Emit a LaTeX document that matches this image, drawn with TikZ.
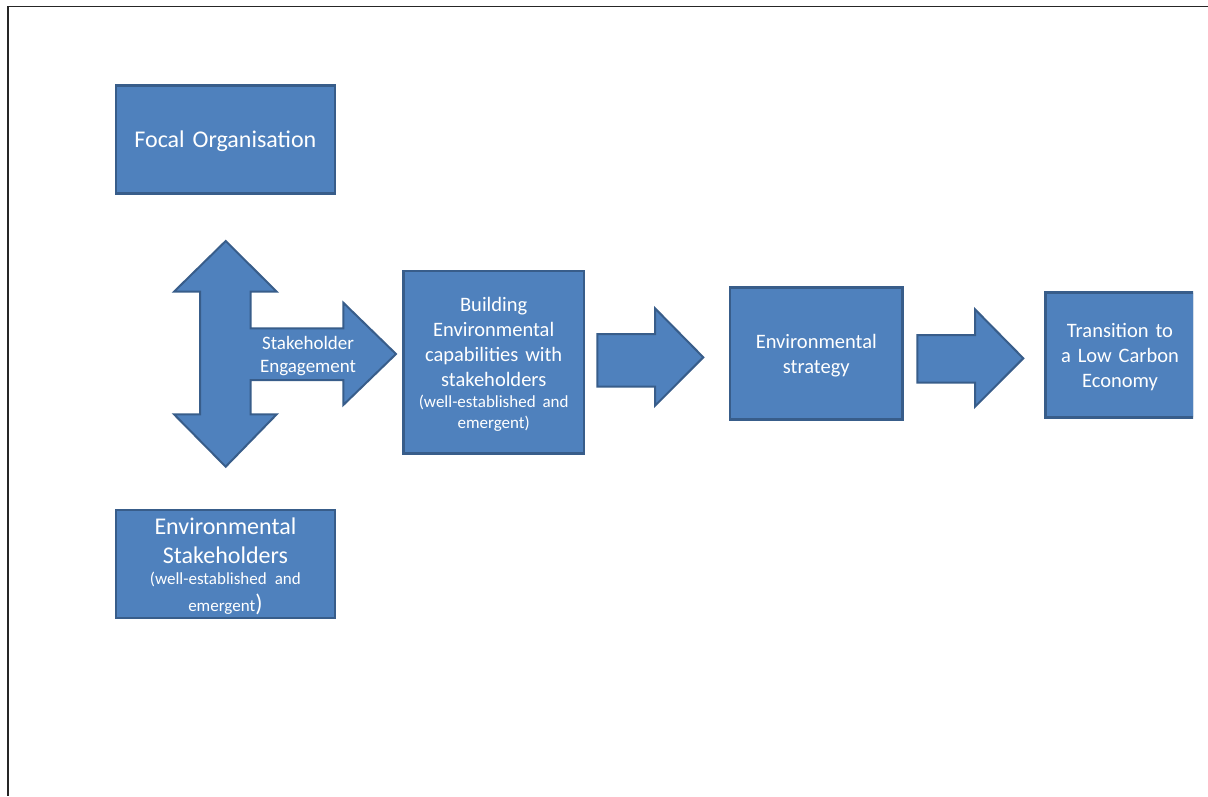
\documentclass[tikz,border=0pt]{standalone}
\usepackage{fontspec}
\setmainfont{Carlito}

\definecolor{boxfill}{HTML}{4F81BD}
\definecolor{boxline}{HTML}{385D8A}

\newcommand{\bigFont}{\fontsize{24}{29.5}\selectfont}
\newcommand{\midFont}{\fontsize{20.5}{25}\selectfont}
\newcommand{\noteFont}{\fontsize{17}{21}\selectfont}
\newcommand{\dropText}{\par\vspace{-5pt}}

\begin{document}
\begin{tikzpicture}[x = 1pt, y = -1pt,
	box/.style = {draw = boxline, fill = boxfill, line width = 2.5pt, text = white, align = center, inner sep = 0pt},
	blockarrow/.style = {draw = boxline, fill = boxfill, line width = 2pt, line join = miter}]

	\useasboundingbox (0, 0) rectangle (1208, 796);

	% Page frame

	\draw [line width = 1.3pt, black!85] (1208, 6.5) -- (8, 6.5) -- (8, 796);

	% Left column: organisation and stakeholders

	\node [box, minimum width = 219pt, minimum height = 108pt, text width = 205pt, font = \bigFont] (focal) at (225.4, 139.5) {Focal Organisation\dropText};

	\node [box, minimum width = 219pt, minimum height = 108pt, text width = 205pt, font = \bigFont] (stakeholders) at (225.4, 563.9)
		{Environmental\\Stakeholders\par{\noteFont (well-established and\\[6pt]emergent{\bigFont )}\par}\dropText};

	% Engagement arrow (up, down and right)

	\draw [blockarrow] (225.7, 241) -- (276.7, 291.7) -- (250.7, 291.7) -- (250.7, 328.3) -- (343.3, 328.3) -- (343.3, 302.7)
		-- (396, 354) -- (343.3, 405) -- (343.3, 380) -- (250.7, 380) -- (250.7, 414.3) -- (276.7, 414.3)
		-- (225.7, 466.7) -- (174, 414.3) -- (200, 414.3) -- (200, 291.7) -- (174, 291.7) -- cycle;

	\node [font = \fontsize{19}{23}\selectfont, text = white, align = center] (engage) at (308, 356.5) {Stakeholder\\Engagement};

	% Capabilities, strategy and transition

	\node [box, minimum width = 180.7pt, minimum height = 182.3pt, text width = 170pt, font = \midFont] (building) at (493.7, 362.2)
		{Building\\Environmental\\capabilities with\\stakeholders\par{\noteFont (well-established and\\emergent)\par}\dropText};

	\draw [blockarrow] (597.3, 334) -- (655, 334) -- (655, 308.3) -- (703.3, 357.3) -- (655, 405.7) -- (655, 386.7) -- (597.3, 386.7) -- cycle;

	\node [box, minimum width = 172.7pt, minimum height = 132pt, text width = 160pt, font = \midFont] (strategy) at (816.3, 353.3)
		{Environmental\\strategy\dropText};

	\draw [blockarrow] (917.3, 335) -- (975, 335) -- (975, 309.3) -- (1023.3, 358.3) -- (975, 406.7) -- (975, 382.7) -- (917.3, 382.7) -- cycle;

	\begin{scope}
		\clip (0, 0) rectangle (1193, 796);
		\node [box, minimum width = 148.6pt, minimum height = 124.6pt, text width = 140pt, font = \midFont] (transition) at (1120, 355)
			{Transition to\\a Low Carbon\\Economy\dropText};
	\end{scope}

\end{tikzpicture}
\end{document}
